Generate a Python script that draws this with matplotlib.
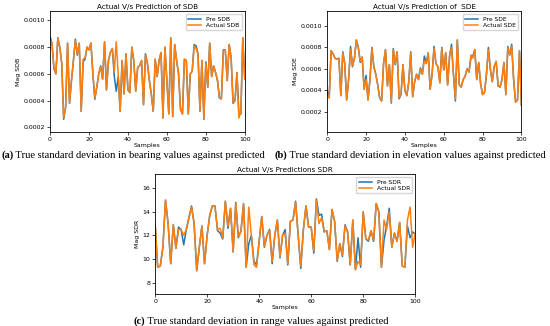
import numpy as np
import matplotlib
matplotlib.use("Agg")
import matplotlib.pyplot as plt

samples = np.arange(101)

# (a) standard deviation in bearing
sdb_actual = [0.00086, 0.00083, 0.00064, 0.00060, 0.00087, 0.00080, 0.00068, 0.00027, 0.00035, 0.00083,
              0.00038, 0.00055, 0.00070, 0.00085, 0.00075, 0.00083, 0.00032, 0.00071, 0.00072, 0.00080,
              0.00078, 0.00083, 0.00060, 0.00042, 0.00050, 0.00060, 0.00065, 0.00056, 0.00084, 0.00048,
              0.00070, 0.00076, 0.00079, 0.00062, 0.00084, 0.00060, 0.00032, 0.00070, 0.00045, 0.00075,
              0.00048, 0.00046, 0.00080, 0.00070, 0.00047, 0.00065, 0.00066, 0.00070, 0.00037, 0.00074,
              0.00068, 0.00055, 0.00045, 0.00032, 0.00071, 0.00058, 0.00070, 0.00076, 0.00027, 0.00080,
              0.00055, 0.00030, 0.00087, 0.00028, 0.00082, 0.00070, 0.00060, 0.00033, 0.00030, 0.00071,
              0.00070, 0.00030, 0.00060, 0.00062, 0.00081, 0.00079, 0.00075, 0.00032, 0.00070, 0.00027,
              0.00068, 0.00050, 0.00083, 0.00058, 0.00066, 0.00061, 0.00055, 0.00042, 0.00041, 0.00077,
              0.00078, 0.00055, 0.00082, 0.00072, 0.00039, 0.00040, 0.00061, 0.00027, 0.00032, 0.00087,
              0.00056]
sdb_pred = [0.00088, 0.00083, 0.00064, 0.00060, 0.00087, 0.00080, 0.00068, 0.00026, 0.00035, 0.00083,
            0.00038, 0.00055, 0.00070, 0.00086, 0.00074, 0.00083, 0.00032, 0.00069, 0.00071, 0.00080,
            0.00078, 0.00083, 0.00060, 0.00041, 0.00050, 0.00060, 0.00066, 0.00056, 0.00084, 0.00048,
            0.00070, 0.00076, 0.00079, 0.00058, 0.00047, 0.00058, 0.00032, 0.00070, 0.00045, 0.00075,
            0.00048, 0.00046, 0.00080, 0.00070, 0.00047, 0.00065, 0.00066, 0.00070, 0.00037, 0.00075,
            0.00068, 0.00055, 0.00045, 0.00032, 0.00071, 0.00058, 0.00070, 0.00076, 0.00027, 0.00080,
            0.00055, 0.00030, 0.00087, 0.00028, 0.00082, 0.00070, 0.00060, 0.00034, 0.00030, 0.00071,
            0.00070, 0.00030, 0.00060, 0.00062, 0.00082, 0.00081, 0.00075, 0.00032, 0.00070, 0.00026,
            0.00069, 0.00050, 0.00083, 0.00058, 0.00066, 0.00061, 0.00055, 0.00042, 0.00042, 0.00078,
            0.00078, 0.00055, 0.00082, 0.00072, 0.00038, 0.00040, 0.00061, 0.00030, 0.00030, 0.00087,
            0.00056]

# (b) standard deviation in elevation
sde_actual = [0.00036, 0.00033, 0.00077, 0.00074, 0.00070, 0.00069, 0.00070, 0.00035, 0.00075, 0.00065,
              0.00031, 0.00050, 0.00078, 0.00063, 0.00070, 0.00087, 0.00080, 0.00067, 0.00071, 0.00041,
              0.00050, 0.00031, 0.00050, 0.00079, 0.00062, 0.00055, 0.00045, 0.00033, 0.00030, 0.00065,
              0.00078, 0.00044, 0.00064, 0.00029, 0.00078, 0.00065, 0.00076, 0.00033, 0.00036, 0.00064,
              0.00040, 0.00035, 0.00048, 0.00075, 0.00034, 0.00048, 0.00055, 0.00050, 0.00060, 0.00055,
              0.00068, 0.00065, 0.00075, 0.00041, 0.00055, 0.00079, 0.00065, 0.00062, 0.00047, 0.00079,
              0.00059, 0.00075, 0.00045, 0.00072, 0.00080, 0.00055, 0.00032, 0.00087, 0.00045, 0.00043,
              0.00050, 0.00053, 0.00060, 0.00057, 0.00073, 0.00070, 0.00078, 0.00050, 0.00066, 0.00046,
              0.00036, 0.00038, 0.00055, 0.00078, 0.00060, 0.00048, 0.00062, 0.00067, 0.00045, 0.00043,
              0.00050, 0.00066, 0.00036, 0.00080, 0.00073, 0.00081, 0.00050, 0.00029, 0.00031, 0.00077,
              0.00026]
sde_pred = [0.00040, 0.00033, 0.00077, 0.00074, 0.00070, 0.00069, 0.00070, 0.00035, 0.00076, 0.00065,
            0.00031, 0.00050, 0.00081, 0.00062, 0.00070, 0.00087, 0.00080, 0.00066, 0.00071, 0.00041,
            0.00054, 0.00031, 0.00050, 0.00080, 0.00062, 0.00055, 0.00045, 0.00033, 0.00030, 0.00065,
            0.00078, 0.00044, 0.00064, 0.00028, 0.00079, 0.00064, 0.00076, 0.00032, 0.00036, 0.00064,
            0.00040, 0.00035, 0.00048, 0.00076, 0.00034, 0.00048, 0.00055, 0.00050, 0.00061, 0.00055,
            0.00072, 0.00065, 0.00075, 0.00041, 0.00055, 0.00081, 0.00065, 0.00062, 0.00047, 0.00080,
            0.00059, 0.00075, 0.00045, 0.00072, 0.00083, 0.00055, 0.00030, 0.00087, 0.00045, 0.00043,
            0.00050, 0.00053, 0.00060, 0.00057, 0.00070, 0.00072, 0.00078, 0.00050, 0.00066, 0.00046,
            0.00036, 0.00038, 0.00055, 0.00080, 0.00060, 0.00048, 0.00062, 0.00067, 0.00044, 0.00043,
            0.00050, 0.00066, 0.00036, 0.00081, 0.00073, 0.00083, 0.00050, 0.00029, 0.00031, 0.00077,
            0.00026]

# (c) standard deviation in range
sdr_actual = [13.0, 9.3, 9.4, 11.0, 15.0, 13.0, 9.6, 12.9, 10.9, 12.5,
              12.5, 12.0, 12.5, 13.5, 14.4, 13.0, 9.0, 11.0, 12.8, 9.6,
              12.0, 13.7, 14.5, 14.5, 12.5, 12.6, 11.8, 14.9, 12.8, 14.3,
              10.6, 14.7, 11.9, 12.3, 14.7, 9.3, 14.4, 12.0, 9.5, 9.3,
              11.5, 13.6, 11.1, 12.0, 12.4, 9.8, 12.0, 13.3, 10.2, 12.0,
              12.2, 9.6, 13.2, 13.3, 14.8, 12.0, 9.4, 12.5, 14.5, 12.7,
              12.7, 10.7, 15.0, 13.0, 13.5, 12.3, 12.4, 10.8, 14.2, 13.2,
              9.9, 11.3, 10.3, 12.8, 12.3, 9.5, 13.3, 9.1, 9.8, 9.5,
              14.0, 11.7, 11.6, 12.4, 11.6, 14.7, 14.0, 9.3, 13.3, 12.5,
              14.0, 11.0, 12.2, 11.5, 13.1, 9.4, 9.3, 13.3, 14.4, 11.0,
              12.2]
sdr_pred = [13.0, 9.3, 9.4, 11.0, 15.0, 13.0, 9.6, 12.9, 10.9, 12.7,
            12.5, 11.2, 12.5, 13.5, 14.5, 13.0, 9.0, 11.0, 12.8, 9.6,
            12.0, 13.7, 14.5, 14.5, 12.4, 12.2, 11.7, 14.9, 12.6, 14.3,
            10.6, 14.8, 11.8, 12.4, 14.7, 9.3, 11.3, 12.0, 9.8, 9.5,
            11.5, 13.6, 11.0, 12.0, 12.5, 9.6, 12.0, 13.3, 10.1, 12.0,
            12.5, 9.5, 13.2, 13.3, 14.9, 12.0, 9.2, 12.5, 14.5, 12.7,
            12.7, 10.5, 15.1, 13.7, 13.8, 12.3, 12.4, 10.8, 14.2, 13.2,
            9.8, 11.3, 10.2, 12.9, 12.3, 9.5, 13.3, 9.1, 11.8, 9.3,
            14.0, 11.7, 11.5, 12.4, 11.5, 14.7, 14.0, 9.3, 11.6, 12.8,
            14.3, 11.0, 12.2, 11.5, 13.1, 9.4, 9.3, 12.8, 11.8, 12.3,
            12.1]

plt.rcParams['font.family'] = 'DejaVu Sans'
fig = plt.figure(figsize=(5.5, 3.26), dpi=100)

panels = [
    ([0.091, 0.595, 0.354, 0.371], sdb_pred, sdb_actual, 'SDB', 'Actual V/s Prediction of SDB',
     (0.000165, 0.00107), [0.0002, 0.0004, 0.0006, 0.0008, 0.0010], '{:.4f}'),
    ([0.595, 0.595, 0.353, 0.371], sde_pred, sde_actual, 'SDE', 'Actual V/s Prediction of  SDE',
     (0.00001, 0.00114), [0.0002, 0.0004, 0.0006, 0.0008, 0.0010], '{:.4f}'),
    ([0.282, 0.097, 0.473, 0.369], sdr_pred, sdr_actual, 'SDR', 'Actual V/s Predictions SDR',
     (7.0, 17.2), [8, 10, 12, 14, 16], '{:d}'),
]

for rect, pred, actual, name, title, ylim, yticks, fmt in panels:
    ax = fig.add_axes(rect)
    ax.plot(samples, pred, color='#1f77b4', lw=1.1, label='Pre ' + name)
    ax.plot(samples, actual, color='#ff7f0e', lw=1.1, label='Actual ' + name)
    ax.set_xlim(0, 100)
    ax.set_ylim(*ylim)
    ax.set_yticks(yticks)
    ax.set_yticklabels([fmt.format(v) for v in yticks])
    ax.set_xticks([0, 20, 40, 60, 80, 100])
    ax.tick_params(labelsize=4.5, length=2, width=0.5, pad=1.5)
    ax.set_title(title, fontsize=5.2, pad=1.5)
    ax.set_xlabel('Samples', fontsize=4.5, labelpad=0.5)
    ax.set_ylabel('Mag ' + name, fontsize=4.5, labelpad=2)
    for s in ax.spines.values():
        s.set_linewidth(0.6)
    ax.legend(loc='upper right', fontsize=4.3, handlelength=2.2, borderpad=0.4,
              labelspacing=0.2, framealpha=0.8, edgecolor='#cccccc')

captions = [
    (0.002, 0.515, '(a)', ' True standard deviation in bearing values against predicted'),
    (0.499, 0.515, '(b)', ' True standard deviation in elevation values against predicted'),
    (0.243, 0.008, '(c)', ' True standard deviation in range values against predicted'),
]
for x, y, lab, txt in captions:
    t = fig.text(x, y, lab, fontsize=7.6, fontweight='bold', family='Liberation Serif')
    fig.canvas.draw()
    plt.annotate(txt, xy=(1, 0), xycoords=t, va='bottom', ha='left',
                 fontsize=7.6, family='Liberation Serif', annotation_clip=False)

fig.savefig('out.png', dpi=100)
